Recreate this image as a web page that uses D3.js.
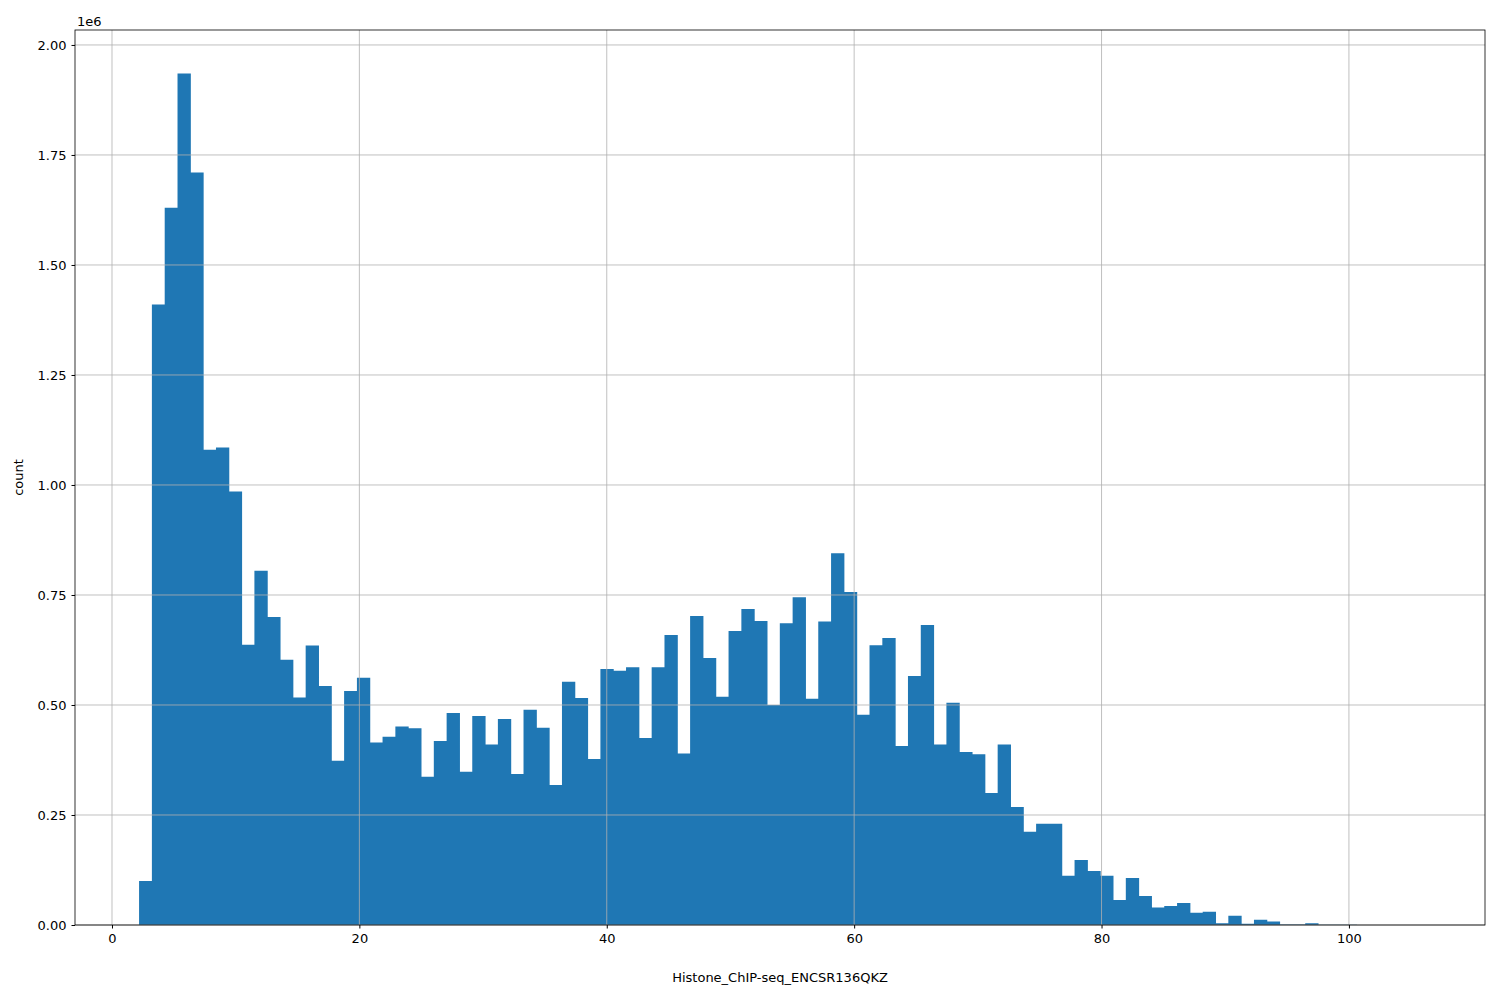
<!DOCTYPE html>
<html>
<head>
<meta charset="utf-8">
<script src="https://cdn.jsdelivr.net/npm/d3@7"></script>
<style>
  body { margin: 0; background: #fff; }
  text { font-family: "DejaVu Sans", sans-serif; }
</style>
</head>
<body>
<div class="chart"></div>
<script>
// histogram: 100 bins starting at binStart, counts in millions
var binStart = 2.19, binWidth = 1.036;
var counts = [
  0.100, 1.410, 1.630, 1.935, 1.710, 1.080, 1.085, 0.985, 0.637, 0.805,
  0.700, 0.603, 0.517, 0.635, 0.543, 0.373, 0.532, 0.562, 0.415, 0.428,
  0.451, 0.447, 0.337, 0.418, 0.482, 0.348, 0.475, 0.410, 0.468, 0.343,
  0.489, 0.448, 0.318, 0.553, 0.516, 0.377, 0.582, 0.578, 0.586, 0.425,
  0.586, 0.659, 0.390, 0.702, 0.607, 0.519, 0.668, 0.718, 0.691, 0.500,
  0.686, 0.745, 0.514, 0.690, 0.845, 0.757, 0.478, 0.636, 0.652, 0.407,
  0.566, 0.682, 0.410, 0.505, 0.393, 0.388, 0.300, 0.410, 0.268, 0.212,
  0.230, 0.230, 0.112, 0.148, 0.123, 0.112, 0.057, 0.107, 0.066, 0.040,
  0.043, 0.050, 0.028, 0.030, 0.004, 0.021, 0.003, 0.012, 0.008, 0.001,
  0.001, 0.004, 0.0005, 0.0005, 0.0003, 0.0002, 0.0002, 0.0001, 0.0001, 0.0001
];
var xTicks = [0, 20, 40, 60, 80, 100];
var yTicks = [0, 0.25, 0.5, 0.75, 1.0, 1.25, 1.5, 1.75, 2.0];
var xLabel = "Histone_ChIP-seq_ENCSR136QKZ", yLabel = "count";

var margin = {top: 30, right: 15, bottom: 75, left: 75};
var width = 1500 - margin.left - margin.right,
    height = 1000 - margin.top - margin.bottom;

var svg = d3.select(".chart").append("svg")
    .attr("width", 1500).attr("height", 1000)
  .append("g")
    .attr("transform", "translate(" + margin.left + "," + margin.top + ")");

var x = d3.scaleLinear().domain([-2.99, 111.0]).range([0, width]);
var y = d3.scaleLinear().domain([0, 2.034]).range([height, 0]);

// bars as one path so there are no seams between them
var bars = d3.path();
counts.forEach(function(d, i) {
  var x0 = x(binStart + i * binWidth), x1 = x(binStart + (i + 1) * binWidth);
  bars.rect(x0, y(d), x1 - x0 + 0.5, height - y(d));
});
svg.append("path").attr("d", bars.toString()).attr("fill", "#1f77b4");

// grid on top
svg.selectAll(".gx").data(xTicks).enter().append("line")
  .attr("x1", function(d) { return x(d); }).attr("x2", function(d) { return x(d); })
  .attr("y1", 0).attr("y2", height)
  .attr("stroke", "#b0b0b0").attr("stroke-width", 0.8);
svg.selectAll(".gy").data(yTicks).enter().append("line")
  .attr("y1", function(d) { return y(d); }).attr("y2", function(d) { return y(d); })
  .attr("x1", 0).attr("x2", width)
  .attr("stroke", "#b0b0b0").attr("stroke-width", 0.8);

var xAxis = svg.append("g").attr("transform", "translate(0," + height + ")")
  .call(d3.axisBottom(x).tickValues(xTicks).tickSize(3.5).tickPadding(5));
var yAxis = svg.append("g")
  .call(d3.axisLeft(y).tickValues(yTicks).tickSize(3.5).tickPadding(5).tickFormat(d3.format(".2f")));
[xAxis, yAxis].forEach(function(a) {
  a.select(".domain").remove();
  a.selectAll("text").style("font-size", "13px").attr("fill", "#000").style("font-family", "DejaVu Sans");
  a.selectAll("line").attr("stroke", "#000");
});

svg.append("rect").attr("width", width).attr("height", height)
  .attr("fill", "none").attr("stroke", "#000").attr("stroke-width", 0.8);

svg.append("text").attr("x", 2).attr("y", -4).style("font-size", "13px").text("1e6");
svg.append("text").attr("x", width / 2).attr("y", height + 57)
  .attr("text-anchor", "middle").style("font-size", "13px").text(xLabel);
svg.append("text").attr("transform", "translate(-52," + (height / 2) + ") rotate(-90)")
  .attr("text-anchor", "middle").style("font-size", "13px").text(yLabel);
</script>
</body>
</html>
